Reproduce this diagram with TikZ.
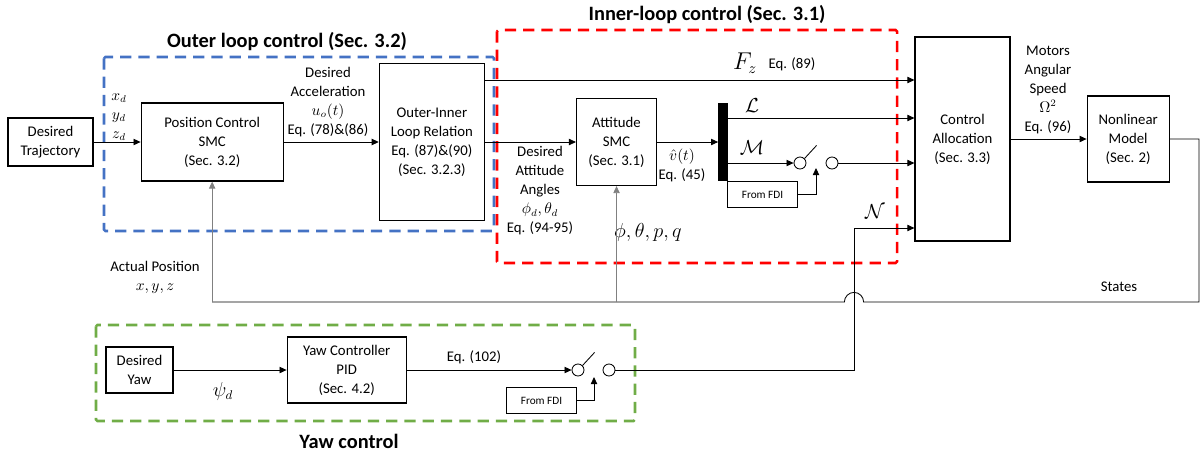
\documentclass[tikz,border=0pt]{standalone}
\usepackage{fontspec}
\setmainfont{Carlito}
\usepackage{amsmath}
\usepackage{tikz}
\usetikzlibrary{positioning,arrows.meta,calc}

\definecolor{outblue}{HTML}{4472C4}
\definecolor{innred}{HTML}{FF0000}
\definecolor{yawgreen}{HTML}{70AD47}

\begin{document}
\begin{tikzpicture}[
  x=0.025cm, y=-0.025cm,
  blk/.style={draw, line width=0.8pt, align=center, font=\fontsize{10.5}{13.5}\selectfont},
  fdi/.style={draw, line width=0.7pt, font=\fontsize{8}{9}\selectfont,
              minimum width=1.75cm, minimum height=0.65cm},
  sig/.style={-{Triangle[length=5pt,width=4.5pt]}, line width=0.6pt},
  lbl/.style={align=center, font=\fontsize{10.5}{13.5}\selectfont, inner sep=0pt},
  big/.style={inner sep=0pt, font=\fontsize{14}{16}\selectfont},
  sw/.style={draw, circle, line width=0.6pt, minimum size=0.3cm, inner sep=0pt},
  grp/.style={line width=1.8pt, dash pattern=on 8pt off 5pt, rounded corners=1pt},
  ttl/.style={font=\fontsize{14.5}{17}\selectfont\bfseries}
]
  \useasboundingbox (0,0) rectangle (1200,456);

  % group frames
  \draw[grp, outblue] (104,57) rectangle (494,231);
  \draw[grp, innred] (497,30) rectangle (897,263);
  \draw[grp, yawgreen] (96,325) rectangle (635,421);
  \node[ttl] (outttl) at (287,42) {Outer loop control (Sec. 3.2)};
  \node[ttl] (innttl) at (707,15) {Inner-loop control (Sec. 3.1)};
  \node[ttl] (yawttl) at (349,441) {Yaw control};

  % main row
  \node[blk, minimum width=2.125cm, minimum height=1.2cm] (dtraj) at (50.5,142) {Desired\\Trajectory};
  \node[blk, minimum width=3.55cm, minimum height=1.95cm, right=1.175cm of dtraj] (posctrl) {Position Control\\SMC\\(Sec. 3.2)};
  \node[blk, minimum width=2.625cm, minimum height=3.925cm, right=2.375cm of posctrl] (oirel) {Outer-Inner\\Loop Relation\\Eq. (87)\&(90)\\(Sec. 3.2.3)};
  \node[blk, minimum width=2.0cm, minimum height=2.175cm, right=2.275cm of oirel] (attsmc) {Attitude\\SMC\\(Sec. 3.1)};
  \node[draw, fill=black, minimum width=0.225cm, minimum height=1.925cm, inner sep=0pt, right=1.525cm of attsmc] (mux) {};
  \node[fdi] (fdia) at (762.5,194.5) {From FDI};
  \node[blk, minimum width=2.375cm, minimum height=5.1cm] (ctrlalloc) at (962.5,139) {Control\\Allocation\\(Sec. 3.3)};
  \node[blk, minimum width=2.05cm, minimum height=2.15cm, right=1.9cm of ctrlalloc] (nlmodel) {Nonlinear\\Model\\(Sec. 2)};

  % switch on M
  \node[sw] (swml) at (800,163) {};
  \node[sw] (swmr) at (832,163) {};
  \coordinate (mgap) at (816,168);

  % yaw row
  \node[blk, minimum width=1.675cm, minimum height=1.15cm] (desyaw) at (139.5,370) {Desired\\Yaw};
  \node[blk, minimum width=2.975cm, minimum height=1.65cm, right=2.825cm of desyaw] (yawpid) {Yaw Controller\\PID\\(Sec. 4.2)};
  \node[fdi] (fdiy) at (541.5,400.5) {From FDI};
  \node[sw] (swyl) at (578,370) {};
  \node[sw] (swyr) at (609,370) {};
  \coordinate (ygap) at (594,377);

  % rows and bends
  \coordinate (fzrow) at (0,80);
  \coordinate (lrow) at (0,118);
  \coordinate (nrow) at (854,228);
  \coordinate (fbout) at (1199,302);

  % labels
  \node[lbl, font=\fontsize{10.5}{13.5}\selectfont] (xdlbl) at (119,117) {$x_d$\\$y_d$\\$z_d$};
  \node[lbl] (acclbl) at (328,102) {Desired\\Acceleration\\$u_o(t)$\\Eq. (78)\&(86)};
  \node[lbl] (attlbl) at (540,191) {Desired\\Attitude\\Angles\\$\phi_d,\theta_d$\\Eq. (94-95)};
  \node[lbl] (vhatlbl) at (682,165) {$\hat{v}(t)$\\Eq. (45)};
  \node[big, font=\fontsize{16}{18}\selectfont] (fzlbl) at (745,63) {$F_z$};
  \node[lbl] (fzeq) at (792,64) {Eq. (89)};
  \node[big] (llbl) at (752,106) {$\mathcal{L}$};
  \node[big] (mlbl) at (752,148) {$\mathcal{M}$};
  \node[big] (nlbl) at (875,212) {$\mathcal{N}$};
  \node[big, font=\fontsize{13.5}{16}\selectfont] (anglbl) at (648,232) {$\phi,\theta,p,q$};
  \node[lbl] (motlbl) at (1048,90) {Motors\\Angular\\Speed\\$\Omega^2$\\Eq. (96)};
  \node[lbl] (statelbl) at (1119,287) {States};
  \node[lbl] (poslbl) at (155,277) {Actual Position\\$x,y,z$};
  \node[big, font=\fontsize{13.5}{16}\selectfont] (psilbl) at (223,391) {$\psi_d$};
  \node[lbl] (yaweq) at (474,357) {Eq. (102)};

  % connectors
  \draw[sig] (dtraj) -- (posctrl);
  \draw[sig] (posctrl) -- (oirel.west |- posctrl);
  \draw[sig] (oirel.east |- attsmc) -- (attsmc);
  \draw[sig] (attsmc) -- (mux.west |- attsmc);
  \draw[sig] (oirel.east |- fzrow) -- (ctrlalloc.west |- fzrow);
  \draw[sig] (mux.east |- lrow) -- (ctrlalloc.west |- lrow);
  \draw[sig] (mux.east |- swml) -- (swml.west);
  \draw[sig] (swmr.east) -- (ctrlalloc.west |- swmr);
  \draw[line width=0.6pt] (swml.45) -- ++(12,-13);
  \draw[sig] (fdia.east) -| (mgap);
  \draw[sig] (ctrlalloc.east |- nlmodel) -- (nlmodel.west);

  % feedback
  \draw[line width=0.6pt] (nlmodel.east) -| (fbout)
    -- ($(nrow |- fbout)+(9.6,0)$) arc[start angle=0, end angle=180, radius=0.24cm]
    -- (posctrl.south |- fbout);
  \draw[sig, gray] (posctrl.south |- fbout) -- (posctrl.south);
  \draw[sig, gray] (attsmc.south |- fbout) -- (attsmc.south);

  % yaw path
  \draw[sig] (desyaw) -- (yawpid);
  \draw[sig] (yawpid) -- (swyl);
  \draw[line width=0.6pt] (swyl.45) -- ++(12,-13);
  \draw[sig] (fdiy.east) -| (ygap);
  \draw[sig] (swyr.east) -| (nrow) -- (ctrlalloc.west |- nrow);
\end{tikzpicture}
\end{document}
